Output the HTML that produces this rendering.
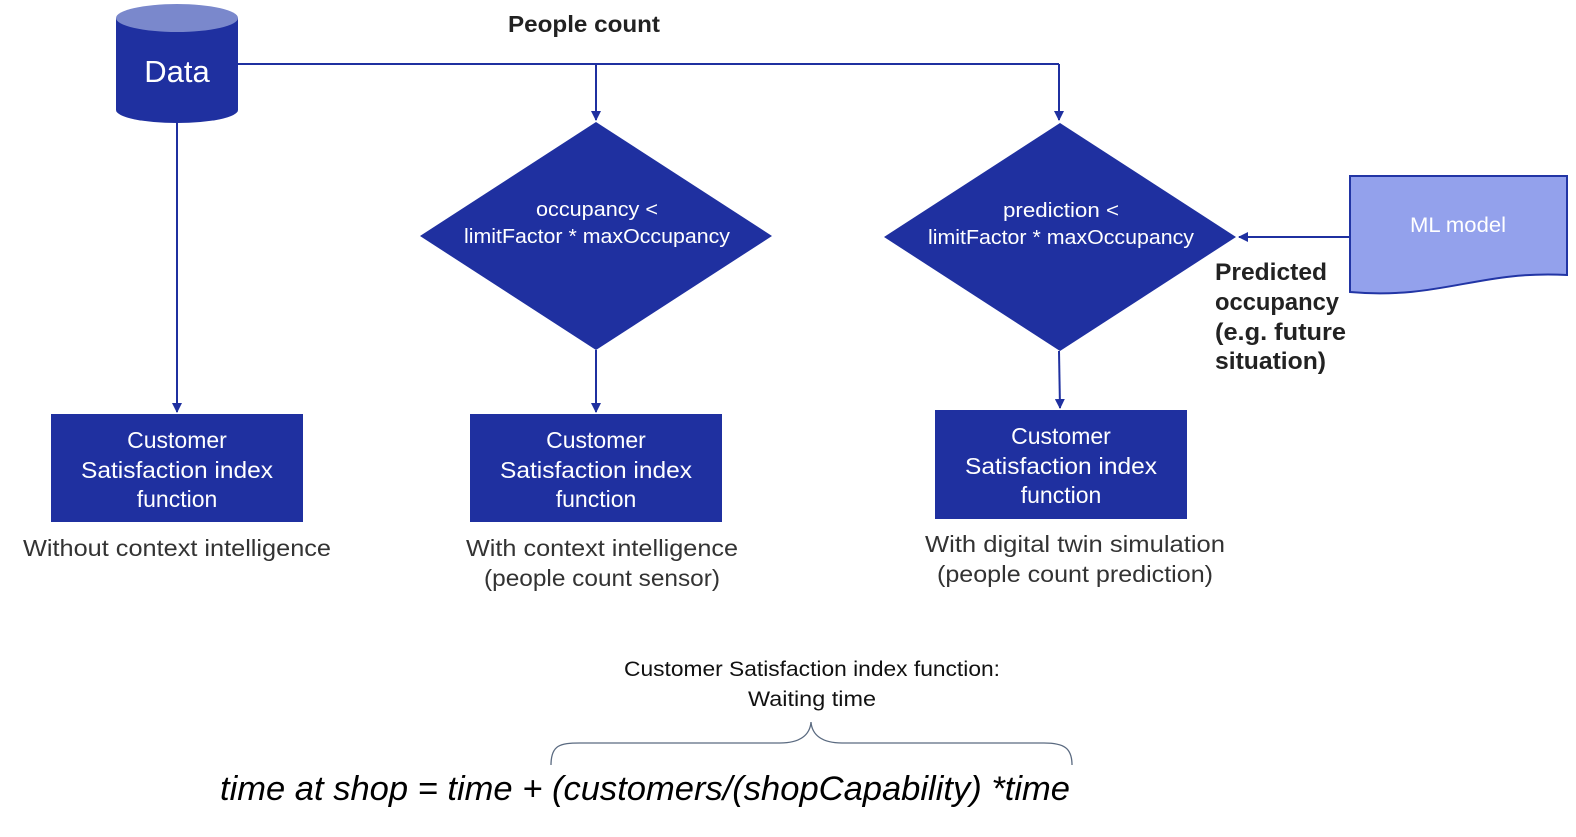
<!DOCTYPE html>
<html><head><meta charset="utf-8"><style>html,body{margin:0;padding:0;background:#fff}svg{display:block}</style></head>
<body>
<svg width="1576" height="837" viewBox="0 0 1576 837" xmlns="http://www.w3.org/2000/svg" font-family="Liberation Sans, sans-serif">
<defs>
<marker id="a" markerWidth="10" markerHeight="10" refX="9" refY="5" orient="auto" markerUnits="userSpaceOnUse"><path d="M0,0 L10,5 L0,10 z" fill="#1F30A0"/></marker>
</defs>
<g stroke="#1F30A0" stroke-width="2" fill="none">
<path d="M238,64 H1059"/>
<path d="M596,64 V120" marker-end="url(#a)"/>
<path d="M1059,64 V120" marker-end="url(#a)"/>
<path d="M177,122 V412" marker-end="url(#a)"/>
<path d="M596,350 V412" marker-end="url(#a)"/>
<path d="M1059,351 L1060,408" marker-end="url(#a)"/>
<path d="M1350,237 H1239" marker-end="url(#a)"/>
</g>
<!-- cylinder -->
<path d="M116,18 V110 A61,13 0 0 0 238,110 V18 Z" fill="#1F30A0"/>
<ellipse cx="177" cy="18" rx="61" ry="14" fill="#7A88CC"/>
<text x="177" y="82" font-size="31" fill="#fff" text-anchor="middle">Data</text>
<text x="584" y="32" font-size="23" font-weight="bold" fill="#222" text-anchor="middle" textLength="152" lengthAdjust="spacingAndGlyphs">People count</text>
<!-- diamonds -->
<polygon points="596,122 772,236 596,350 420,236" fill="#1F30A0"/>
<text x="597" y="216" font-size="20" fill="#fff" text-anchor="middle" textLength="122" lengthAdjust="spacingAndGlyphs">occupancy &lt;</text>
<text x="597" y="243" font-size="20" fill="#fff" text-anchor="middle" textLength="266" lengthAdjust="spacingAndGlyphs">limitFactor * maxOccupancy</text>
<polygon points="1060,123 1236,237 1060,351 884,237" fill="#1F30A0"/>
<text x="1061" y="217" font-size="20" fill="#fff" text-anchor="middle" textLength="116" lengthAdjust="spacingAndGlyphs">prediction &lt;</text>
<text x="1061" y="244" font-size="20" fill="#fff" text-anchor="middle" textLength="266" lengthAdjust="spacingAndGlyphs">limitFactor * maxOccupancy</text>
<!-- ML model -->
<path d="M1350,176 H1567 V275 C1480,270 1440,300 1350,292 Z" fill="#93A1EC" stroke="#2235A5" stroke-width="2"/>
<text x="1458" y="232" font-size="21" fill="#fff" text-anchor="middle" textLength="96" lengthAdjust="spacingAndGlyphs">ML model</text>
<g font-size="24" font-weight="bold" fill="#222">
<text x="1215" y="280" textLength="112" lengthAdjust="spacingAndGlyphs">Predicted</text>
<text x="1215" y="310" textLength="124" lengthAdjust="spacingAndGlyphs">occupancy</text>
<text x="1215" y="340" textLength="131" lengthAdjust="spacingAndGlyphs">(e.g. future</text>
<text x="1215" y="369" textLength="111" lengthAdjust="spacingAndGlyphs">situation)</text>
</g>
<!-- boxes -->
<rect x="51" y="414" width="252" height="108" fill="#1F30A0"/>
<rect x="470" y="414" width="252" height="108" fill="#1F30A0"/>
<rect x="935" y="410" width="252" height="109" fill="#1F30A0"/>
<g font-size="23" fill="#fff" text-anchor="middle">
<text x="177" y="448">Customer</text><text x="177" y="478" textLength="192" lengthAdjust="spacingAndGlyphs">Satisfaction index</text><text x="177" y="507">function</text>
<text x="596" y="448">Customer</text><text x="596" y="478" textLength="192" lengthAdjust="spacingAndGlyphs">Satisfaction index</text><text x="596" y="507">function</text>
<text x="1061" y="444">Customer</text><text x="1061" y="474" textLength="192" lengthAdjust="spacingAndGlyphs">Satisfaction index</text><text x="1061" y="503">function</text>
</g>
<g font-size="23" fill="#333" text-anchor="middle">
<text x="177" y="556" textLength="308" lengthAdjust="spacingAndGlyphs">Without context intelligence</text>
<text x="602" y="556" textLength="272" lengthAdjust="spacingAndGlyphs">With context intelligence</text>
<text x="602" y="586" textLength="236" lengthAdjust="spacingAndGlyphs">(people count sensor)</text>
<text x="1075" y="552" textLength="300" lengthAdjust="spacingAndGlyphs">With digital twin simulation</text>
<text x="1075" y="582" textLength="276" lengthAdjust="spacingAndGlyphs">(people count prediction)</text>
</g>
<g font-size="21" fill="#111" text-anchor="middle">
<text x="812" y="676" textLength="376" lengthAdjust="spacingAndGlyphs">Customer Satisfaction index function:</text>
<text x="812" y="706" textLength="128" lengthAdjust="spacingAndGlyphs">Waiting time</text>
</g>
<path d="M551,765 C551,745 560,743 580,743 H780 C800,743 810,735 811,722 C812,735 822,743 842,743 H1044 C1064,743 1072,748 1072,765" fill="none" stroke="#5a6a80" stroke-width="1.3"/>
<text x="220" y="800" font-size="34" font-style="italic" fill="#000" textLength="850" lengthAdjust="spacingAndGlyphs">time at shop = time + (customers/(shopCapability) *time</text>
</svg>
</body></html>
